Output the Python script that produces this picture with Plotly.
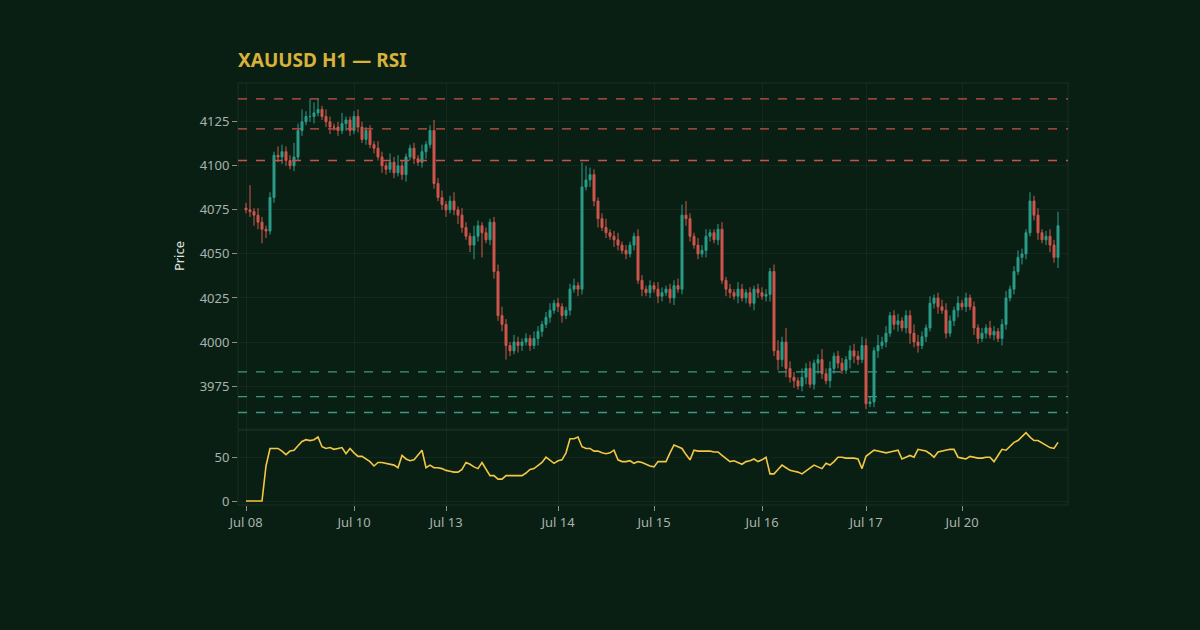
import plotly.graph_objects as go

title = "XAUUSD H1 — RSI"
tick_idx = [0, 27, 50, 78, 102, 129, 155, 179]
tick_txt = ["Jul 08", "Jul 10", "Jul 13", "Jul 14", "Jul 15", "Jul 16", "Jul 17", "Jul 20"]

close = [4075,4074,4072,4068,4064,4063,4082,4106,4105,4108,4103,4100,4105,4120,4125,4128,
         4128,4130,4132,4128,4125,4122,4122,4120,4124,4126,4120,4128,4122,4115,4120,4112,
         4110,4105,4100,4098,4102,4096,4100,4095,4105,4110,4104,4102,4108,4112,4120,
         4090,4082,4078,4075,4080,4075,4072,4065,4060,4055,4060,4066,4062,4058,4068,
         4040,4015,4010,3998,3995,4000,3998,4000,4002,3998,4002,4006,4010,4014,4018,
         4022,4020,4015,4018,4030,4032,4030,4088,4092,4095,4080,4070,4065,4062,4060,
         4058,4055,4052,4050,4055,4060,4035,4030,4028,4032,4030,4026,4028,4030,4025,
         4032,4030,4072,4070,4060,4055,4050,4052,4060,4062,4058,4064,4035,4030,4028,
         4026,4030,4025,4028,4022,4030,4028,4026,4027,4040,3995,3990,4000,3985,3980,3978,
         3975,3980,3985,3976,3988,3990,3982,3978,3985,3992,3988,3984,3990,3995,3992,3990,
         3998,3965,3966,3995,3998,4000,4005,4015,4010,4012,4008,4015,4005,4000,3998,
         4003,4008,4022,4025,4020,4018,4005,4012,4018,4022,4020,4025,4020,4008,4002,
         4005,4008,4004,4006,4002,4010,4025,4030,4040,4048,4050,4062,4080,4072,4062,
         4058,4060,4055,4048,4066]
wick_hi = [3,14,2,4,3,2,3,2,5,4,3,3,8,4,7,3,10,6,6,2,4,3,2,3,6,2,2,3,4,3,2,
           3,2,4,3,2,5,3,6,3,2,2,3,2,4,2,3,6,3,4,2,3,5,2,4,3,2,6,3,2,3,
           2,3,4,5,3,2,4,3,2,3,2,4,3,2,3,4,2,3,2,2,3,4,2,14,8,4,3,2,3,5,
           2,3,4,2,3,2,2,4,3,2,3,2,4,3,2,3,3,4,6,8,3,2,4,3,4,2,2,3,4,2,
           3,2,4,3,2,3,2,3,3,3,2,4,6,3,8,4,3,2,5,3,4,2,3,6,3,4,2,3,3,
           2,3,4,3,5,4,3,2,6,3,4,2,3,4,2,3,3,5,4,3,2,4,2,3,4,4,3,2,4,2,
           3,2,3,2,3,2,4,3,2,3,4,2,3,4,3,2,5,3,4,2,3,4,3,8,4]
wick_lo = [2,3,6,4,8,4,2,3,3,4,3,2,3,2,3,2,3,4,2,2,3,4,2,3,2,4,3,2,3,2,3,
           2,3,2,4,3,2,3,2,3,4,2,3,2,3,4,2,3,2,3,4,2,3,5,3,2,4,8,3,14,2,
           3,4,3,4,8,3,2,4,3,2,3,2,4,3,2,3,2,3,4,2,3,2,4,3,2,4,3,5,2,3,
           2,4,3,2,3,2,3,2,4,2,3,2,4,3,2,3,4,2,3,4,3,2,3,2,4,3,2,3,2,4,
           3,2,4,2,3,2,4,3,2,3,4,3,6,4,5,3,4,2,3,4,2,3,6,3,2,4,3,3,2,
           2,5,4,3,2,3,2,3,4,2,3,2,3,4,2,3,6,3,4,2,3,2,3,4,2,3,2,3,4,2,
           3,2,4,3,2,3,2,3,2,4,3,2,3,2,4,3,2,3,4,2,3,4,3,6,4]
rsi = [0,0,0,0,0,40,60,60,60,57,53,57,58,63,68,70,69,70,73,62,60,61,59,60,61,54,60,55,51,51,
       48,45,40,44,44,43,42,41,38,52,48,46,47,52,58,38,41,38,38,37,35,34,33,33,36,44,42,39,37,44,
       36,29,29,25,25,29,29,29,29,29,32,36,37,41,44,50,46,43,46,47,55,71,71,73,62,60,60,57,57,55,
       54,55,58,47,45,45,46,43,
       45,44,42,40,39,45,45,45,55,64,62,60,53,47,58,57,57,57,57,56,56,52,48,45,46,44,42,45,46,48,
       45,47,50,31,31,36,41,38,35,34,33,31,34,38,41,39,37,43,41,45,50,50,49,49,49,48,37,51,54,58,
       57,56,55,56,57,58,48,50,52,50,59,58,57,54,50,56,57,58,59,59,50,49,48,51,50,49,49,50,50,45,
       52,59,58,63,67,69,74,78,73,69,69,66,63,61,60,67]
res_levels = [4138, 4121, 4103]
sup_levels = [3983, 3969, 3960]

n = min(len(close), len(wick_hi), len(wick_lo), len(rsi))
x = list(range(n))
opens = [close[0] + 1] + close[:n - 1]
highs = [max(opens[i], close[i]) + wick_hi[i] for i in range(n)]
lows = [min(opens[i], close[i]) - wick_lo[i] for i in range(n)]

GREEN = "#2a9d8a"
RED = "#d0564d"
BG = "#0a1f14"
GRID = "rgba(255,255,255,0.04)"

fig = go.Figure()
fig.add_trace(go.Candlestick(x=x, open=opens, high=highs, low=lows, close=close[:n],
    increasing=dict(line=dict(color=GREEN, width=1), fillcolor=GREEN),
    decreasing=dict(line=dict(color=RED, width=1), fillcolor=RED),
    whiskerwidth=0, xaxis="x", yaxis="y", showlegend=False))
fig.add_trace(go.Scatter(x=x, y=rsi[:n], mode="lines", line=dict(color="#f2c744", width=1.6),
    xaxis="x", yaxis="y2", showlegend=False))

for lv in res_levels:
    fig.add_shape(type="line", xref="x domain", yref="y", x0=0, x1=1, y0=lv, y1=lv,
                  line=dict(color="#c9534a", width=1.3, dash="dash"))
for lv in sup_levels:
    fig.add_shape(type="line", xref="x domain", yref="y", x0=0, x1=1, y0=lv, y1=lv,
                  line=dict(color="#3a9a8a", width=1.3, dash="dash"))

fig.add_shape(type="rect", xref="paper", yref="paper", x0=0, x1=1, y0=0.18, y1=1,
              line=dict(color="rgba(255,255,255,0.07)", width=1), layer="below")
fig.add_shape(type="rect", xref="paper", yref="paper", x0=0, x1=1, y0=0, y1=0.177,
              line=dict(color="rgba(255,255,255,0.07)", width=1), layer="below")

fig.update_layout(
    width=1200, height=630, paper_bgcolor=BG, plot_bgcolor=BG,
    margin=dict(l=238, r=132, t=83, b=125),
    font=dict(family="Noto Sans", color="#a8b3ad", size=13),
    title=dict(text="<b>" + title + "</b>", x=238/1200, xanchor="left", y=1-60/630, yanchor="middle",
               font=dict(size=19, color="#d8b23a")),
    xaxis=dict(domain=[0, 1], range=[-2, 205.5], rangeslider=dict(visible=False),
               tickvals=tick_idx, ticktext=tick_txt, ticks="outside", ticklen=5,
               tickcolor="#8a958f", showgrid=True, gridcolor=GRID, zeroline=False,
               anchor="y2", showline=False),
    yaxis=dict(domain=[0.18, 1], range=[3950.6, 4147], tickvals=[3975, 4000, 4025, 4050, 4075, 4100, 4125],
               ticks="outside", ticklen=5, tickcolor="#8a958f", showgrid=True, gridcolor=GRID,
               zeroline=False, title=dict(text="Price", font=dict(color="#e0e6e2", size=13), standoff=12)),
    yaxis2=dict(domain=[0, 0.177], range=[-4.5, 80.7], tickvals=[0, 50], ticks="outside", ticklen=5,
                tickcolor="#8a958f", showgrid=True, gridcolor=GRID, zeroline=False),
)
fig.write_html("out.html", config={"displayModeBar": False},
               post_script="document.body.style.margin='0';document.body.style.background='#0a1f14';")
